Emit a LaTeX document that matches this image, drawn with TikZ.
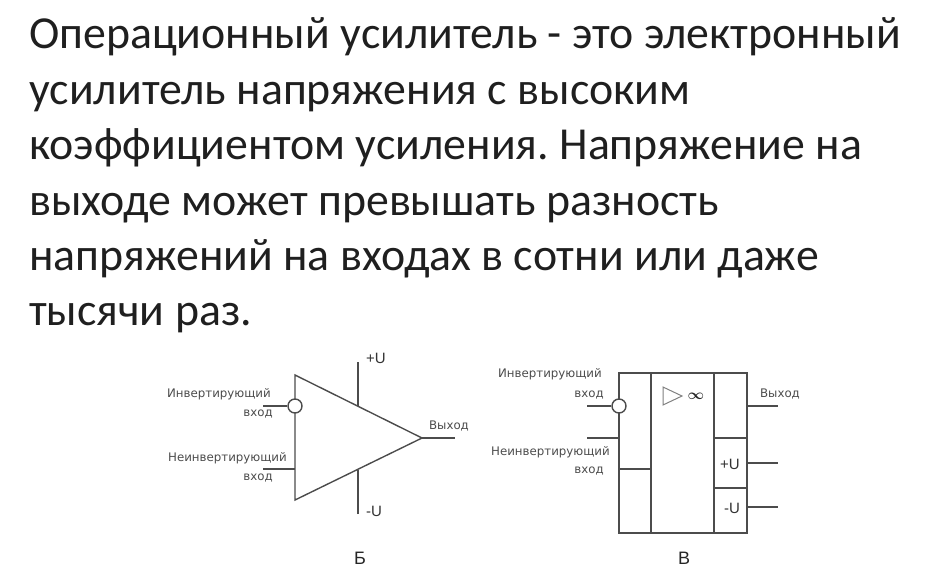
\documentclass[tikz,border=0pt]{standalone}
\usepackage{fontspec}
\setmainfont{Carlito}
\newfontfamily\labelfont{Liberation Sans}
\newfontfamily\smallfont{DejaVu Sans}
\usepackage{color}
\tikzset{
	x=1pt,y=-1pt,
	line/.style={anchor=base west,inner sep=0pt,font=\fontsize{45.8}{48}\selectfont\frenchspacing,text=black!88},
	wire/.style={draw=black!70,line width=1.4pt},
	small/.style={inner sep=0pt,font=\smallfont\fontsize{11.8}{13}\selectfont,text=black!70},
	pin/.style={inner sep=0pt,font=\labelfont\fontsize{15}{16}\selectfont,text=black!80},
	letter/.style={inner sep=0pt,font=\labelfont\fontsize{18}{19}\selectfont,text=black!85},
	bubble/.style={circle,draw=black!70,fill=white,line width=1.4pt,minimum size=14pt,inner sep=0pt}
}
\begin{document}
\begin{tikzpicture}
	\useasboundingbox (0,0) rectangle (927,576);
	% text
	\node[line] (l1) at (29,48) {Операционный усилитель - это электронный};
	\node[line] (l2) at (29,104) {усилитель напряжения с высоким};
	\node[line] (l3) at (29,159) {коэффициентом усиления. Напряжение на};
	\node[line] (l4) at (29,215) {выходе может превышать разность};
	\node[line] (l5) at (29,270) {напряжений на входах в сотни или даже};
	\node[line] (l6) at (29,325) {тысячи раз.};
	% triangle
	\coordinate (tl) at (295,375);
	\coordinate (bl) at (295,500);
	\coordinate (tip) at (422,438);
	\coordinate (inA) at (263,406);
	\coordinate (inB) at (263,469);
	\coordinate (inBend) at (295,469);
	\coordinate (outA) at (455,438);
	\coordinate (supA) at (358,362);
	\coordinate (supAend) at (358,406);
	\coordinate (supB) at (358,514);
	\coordinate (supBend) at (358,470);
	\draw[wire] (tl) -- (tip) -- (bl) -- cycle;
	\draw[wire] (inB) -- (inBend);
	\draw[wire] (tip) -- (outA);
	\draw[wire] (supA) -- (supAend);
	\draw[wire] (supB) -- (supBend);
	\node[bubble] (circA) at (295,406) {};
	\draw[wire] (inA) -- (circA);
	\node[small,anchor=east] (invA) at (271,394) {Инвертирующий};
	\node[small,anchor=east] (invB) at (273,414) {вход};
	\node[small,anchor=east] (ninvA) at (287,458) {Неинвертирующий};
	\node[small,anchor=east] (ninvB) at (273,478) {вход};
	\node[small] (outlab) at (449,426) {Выход};
	\node[pin,anchor=west] (plus) at (366,358) {+U};
	\node[pin,anchor=west] (minus) at (366,511) {-U};
	\node[letter] (letA) at (360,558) {Б};
	% box
	\coordinate (nw) at (619,373);
	\coordinate (se) at (747,533);
	\coordinate (c1) at (651,373);
	\coordinate (c1s) at (651,533);
	\coordinate (c2) at (714,373);
	\coordinate (c2s) at (714,533);
	\coordinate (r1) at (714,438);
	\coordinate (r1e) at (747,438);
	\coordinate (r2) at (714,488);
	\coordinate (r2e) at (747,488);
	\coordinate (s1) at (619,469);
	\coordinate (s1e) at (651,469);
	\draw[wire] (nw) rectangle (se);
	\draw[wire] (c1) -- (c1s);
	\draw[wire,line width=1.8pt] (c2) -- (c2s);
	\draw[wire] (r1) -- (r1e);
	\draw[wire] (r2) -- (r2e);
	\draw[wire] (s1) -- (s1e);
	\coordinate (pA) at (587,406);
	\coordinate (pB) at (587,438);
	\coordinate (pBe) at (619,438);
	\coordinate (qA) at (747,406);
	\coordinate (qAe) at (778,406);
	\coordinate (qB) at (747,463);
	\coordinate (qBe) at (778,463);
	\coordinate (qC) at (747,507);
	\coordinate (qCe) at (778,507);
	\draw[wire] (pB) -- (pBe);
	\draw[wire] (qA) -- (qAe);
	\draw[wire] (qB) -- (qBe);
	\draw[wire] (qC) -- (qCe);
	\node[bubble] (circB) at (619,406) {};
	\draw[wire] (pA) -- (circB);
	\coordinate (ga) at (663,387);
	\coordinate (gb) at (663,405);
	\coordinate (gc) at (682,396);
	\draw[draw=black!50,line width=1pt] (ga) -- (gc) -- (gb) -- cycle;
	\node[inner sep=0pt,font=\fontsize{14}{14}\selectfont\boldmath,text=black!85] (infin) at (696,396) {$\infty$};
	\node[small,anchor=east] (invC) at (602,374) {Инвертирующий};
	\node[small,anchor=east] (invD) at (604,395) {вход};
	\node[small,anchor=east] (ninvC) at (610,452) {Неинвертирующий};
	\node[small,anchor=east] (ninvD) at (604,471) {вход};
	\node[small] (outlabB) at (780,394) {Выход};
	\node[pin] (plusB) at (730,464) {+U};
	\node[pin] (minusB) at (732,508) {-U};
	\node[letter] (letB) at (684,558) {В};
\end{tikzpicture}
\end{document}
